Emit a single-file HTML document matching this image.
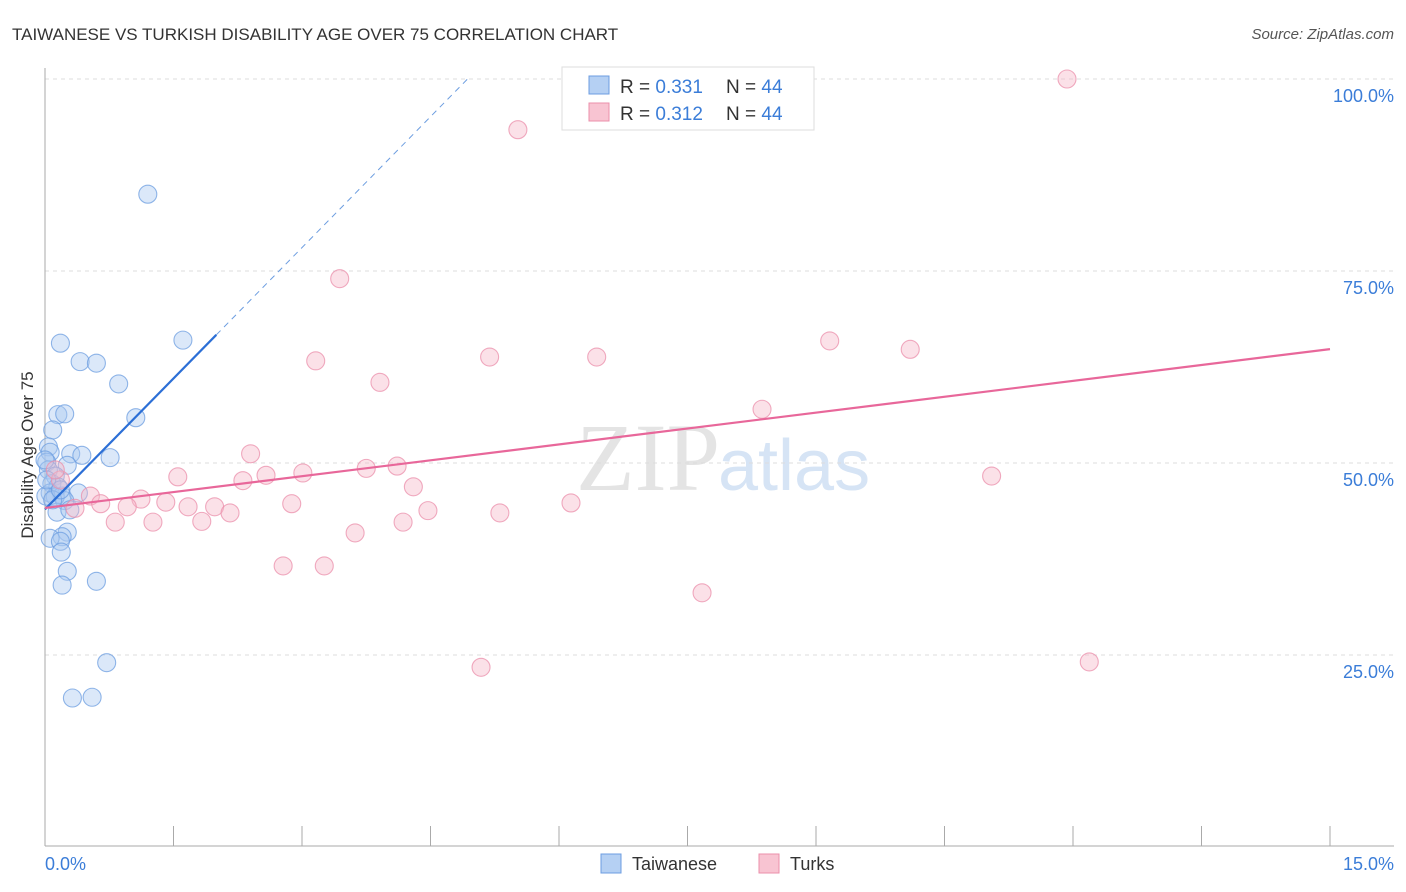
<!DOCTYPE html>
<html><head><meta charset="utf-8"><style>
body{margin:0;background:#fff;font-family:"Liberation Sans",sans-serif}
svg{display:block}
</style></head><body>
<svg width="1406" height="892" xmlns="http://www.w3.org/2000/svg">
<text x="12" y="40" font-size="17" fill="#333">TAIWANESE VS TURKISH DISABILITY AGE OVER 75 CORRELATION CHART</text>
<text x="1394" y="39" font-size="15" font-style="italic" fill="#555" text-anchor="end">Source: ZipAtlas.com</text>
<text x="720" y="490" font-size="96" fill="#e4e4e4" text-anchor="end" font-family="Liberation Serif,serif">ZIP</text>
<text x="718" y="490" font-size="72" fill="#d6e4f5">atlas</text>
<g id="grid"></g><g id="axes"></g><g id="pts"></g><g id="lines"></g>
<text x="33" y="455" font-size="17" fill="#333" text-anchor="middle" transform="rotate(-90 33 455)">Disability Age Over 75</text>
<text x="45" y="870" font-size="18" fill="#3b7dd8">0.0%</text>
<text x="1394" y="870" font-size="18" fill="#3b7dd8" text-anchor="end">15.0%</text>
<g>
<rect x="562" y="67" width="252" height="63" fill="#fff" stroke="#ddd"/>
<rect x="589" y="76" width="20" height="18" fill="#b5d0f3" stroke="#6c9de0"/>
<rect x="589" y="103" width="20" height="18" fill="#f8c4d2" stroke="#eb8fab"/>
<text x="620" y="93" font-size="19" fill="#333">R = <tspan fill="#3b7dd8">0.331</tspan></text>
<text x="726" y="93" font-size="19" fill="#333">N = <tspan fill="#3b7dd8">44</tspan></text>
<text x="620" y="120" font-size="19" fill="#333">R = <tspan fill="#3b7dd8">0.312</tspan></text>
<text x="726" y="120" font-size="19" fill="#333">N = <tspan fill="#3b7dd8">44</tspan></text>
</g>
<g>
<rect x="601" y="854" width="20" height="19" fill="#b5d0f3" stroke="#6c9de0"/>
<text x="632" y="870" font-size="18" fill="#333">Taiwanese</text>
<rect x="759" y="854" width="20" height="19" fill="#f8c4d2" stroke="#eb8fab"/>
<text x="790" y="870" font-size="18" fill="#333">Turks</text>
</g>
</svg>
<script>
const blueX=[1.20,1.61,0.18,0.41,0.60,0.86,0.15,0.23,1.06,0.09,0.04,0.06,0.30,0.43,0.76,0.02,0.26,0.04,0.12,0.08,0.15,0.06,0.20,0.39,0.12,0.23,0.14,0.29,0.26,0.20,0.06,0.18,0.19,0.26,0.60,0.20,0.72,0.32,0.55,0.01,0.09,0.02,0.18,0.0];
const blueY=[85.0,66.0,65.6,63.2,63.0,60.3,56.3,56.4,55.9,54.3,52.1,51.4,51.2,51.0,50.7,50.1,49.7,49.1,48.3,47.3,46.9,46.1,45.7,46.1,45.6,45.1,43.6,43.9,41.0,40.4,40.2,39.8,38.4,35.9,34.6,34.1,24.0,19.4,19.5,45.7,45.2,47.8,46.5,50.4];
const pinkX=[11.93,5.52,3.44,3.16,5.19,6.44,9.16,10.10,3.91,8.37,2.40,1.55,2.31,2.58,3.01,3.75,4.11,4.30,11.05,0.53,1.12,1.41,1.67,1.98,2.16,2.88,4.47,5.31,6.14,0.65,0.96,0.82,1.26,1.83,3.62,4.18,2.78,3.26,7.67,5.09,12.19,0.18,0.12,0.35];
const pinkY=[100,93.4,74.0,63.3,63.8,63.8,65.9,64.8,60.5,57.0,51.2,48.2,47.7,48.4,48.7,49.3,49.6,46.9,48.3,45.7,45.3,44.9,44.3,44.3,43.5,44.7,43.8,43.5,44.8,44.7,44.3,42.3,42.3,42.4,40.9,42.3,36.6,36.6,33.1,23.4,24.1,47.8,49.1,44.1];
const yTicks=[25,50,75,100];
const xTickCount=10;
const NS='http://www.w3.org/2000/svg';
const X=v=>45+v/15*1285, Y=v=>847-v*7.68;
function mk(tag,attrs,parent){const e=document.createElementNS(NS,tag);for(const k in attrs)e.setAttribute(k,attrs[k]);document.getElementById(parent).appendChild(e);return e;}
yTicks.forEach(t=>{
  const l=mk('line',{x1:45,x2:1394,y1:Y(t),y2:Y(t),stroke:'#ddd','stroke-dasharray':'4,4'},'grid');
  
  
  const tx=mk('text',{x:1394,y:Y(t)+23,'font-size':18,fill:'#3b7dd8','text-anchor':'end'},'grid');
  tx.textContent=t.toFixed(1)+'%';
  
  
});
let a=mk('line',{x1:45,x2:45,y1:68,y2:846,stroke:'#aaa'},'axes');


a=mk('line',{x1:45,x2:1394,y1:846,y2:846,stroke:'#aaa'},'axes');


for(let i=1;i<=xTickCount;i++){const t=mk('line',{x1:X(i*1.5),x2:X(i*1.5),y1:826,y2:846,stroke:'#aaa'},'axes');

}
function pts(xs,ys,fill,stroke,name){xs.forEach((x,i)=>{const c=mk('circle',{cx:X(x),cy:Y(ys[i]),r:9,fill:fill,'fill-opacity':0.42,stroke:stroke,'stroke-opacity':0.75,'stroke-width':1.1},'pts');

});}
pts(blueX,blueY,'#a9c8f0','#6c9de0','taiwanese-point');
pts(pinkX,pinkY,'#f5b8c8','#eb8fab','turks-point');
function reg(xs,ys){const n=xs.length;const mx=xs.reduce((a,b)=>a+b)/n,my=ys.reduce((a,b)=>a+b)/n;let sxy=0,sxx=0;xs.forEach((x,i)=>{sxy+=(x-mx)*(ys[i]-my);sxx+=(x-mx)**2});const b=sxy/sxx;return[my-b*mx,b];}
const [ba,bb]=reg(blueX,blueY);
let l=mk('line',{x1:X(0),y1:Y(ba),x2:X(2.0),y2:Y(ba+bb*2.0),stroke:'#2c6fd6','stroke-width':2.2},'lines');


const xe=(100-ba)/bb;
l=mk('line',{x1:X(2.0),y1:Y(ba+bb*2.0),x2:X(Math.min(xe,15)),y2:Y(ba+bb*Math.min(xe,15)),stroke:'#6c9de0','stroke-width':1,'stroke-dasharray':'6,5'},'lines');


const [pa,pb]=reg(pinkX,pinkY);
l=mk('line',{x1:X(0),y1:Y(pa),x2:X(15),y2:Y(pa+pb*15),stroke:'#e8679a','stroke-width':2.2},'lines');


</script>
</body></html>
